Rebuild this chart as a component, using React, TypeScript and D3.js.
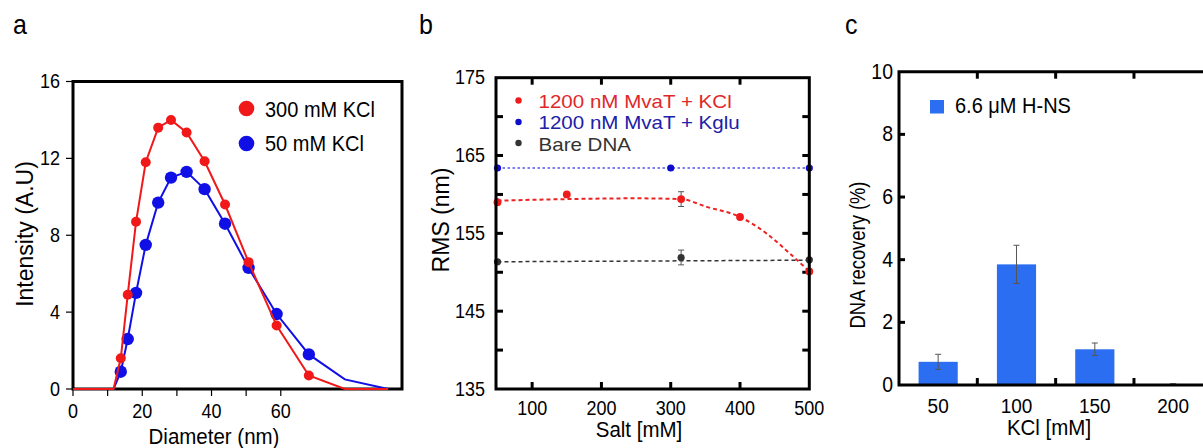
import React from "react";
import * as d3 from "d3";

// ---------- Panel a data ----------
const diameters = [0, 11.7, 13.8, 15.8, 18.2, 21.0, 24.6, 28.3, 32.8, 38.0, 43.9, 50.7, 58.8, 68.1, 78.5, 91.0];
const intensity300 = [0, 0, 1.6, 4.9, 8.7, 11.8, 13.6, 14.0, 13.35, 11.85, 9.6, 6.6, 3.3, 0.7, 0, 0];
const intensity50 = [0, 0, 0.9, 2.6, 5.0, 7.5, 9.7, 11.0, 11.3, 10.4, 8.6, 6.3, 3.9, 1.8, 0.5, 0];
const hasMarker = [false, false, true, true, true, true, true, true, true, true, true, true, true, true, false, false];
const aXTicks = [0, 10, 20, 30, 40, 50, 60];
const aXLabels = [0, 20, 40, 60];
const aYTicks = [0, 4, 8, 12, 16];

// ---------- Panel b data ----------
const saltKCl = [50, 150, 315, 400, 500];
const rmsKCl = [159.0, 160.0, 159.4, 157.1, 150.1];
const errKCl = [0, 0, 0.95, 0, 0];
const fitSaltKCl = [50, 150, 250, 315, 352, 400, 438, 472, 500];
const fitRmsKCl = [159.2, 159.4, 159.5, 159.4, 158.4, 157.1, 155.0, 152.4, 150.1];
const saltKglu = [50, 300, 500];
const rmsKglu = [163.4, 163.4, 163.4];
const saltBare = [50, 315, 500];
const rmsBare = [151.35, 151.9, 151.6];
const errBare = [0, 0.95, 0];
const fitSaltBare = [50, 500];
const fitRmsBare = [151.35, 151.55];
const bXTicks = [100, 200, 300, 400];
const bXLabels = [100, 200, 300, 400, 500];
const bYTicks = [140, 145, 150, 155, 160, 165, 170];
const bYLabels = [135, 145, 155, 165, 175];

// ---------- Panel c data ----------
const kclCats = ["50", "100", "150", "200"];
const recovery = [0.74, 3.85, 1.14, 0.03];
const recoveryErr = [0.24, 0.61, 0.2, 0.01];
const cYTicks = [2, 4, 6, 8];
const cYLabels = [0, 2, 4, 6, 8, 10];

const FONT = "'Liberation Sans', Arial, Helvetica, sans-serif";
const RED_A = "#f01818";
const BLUE_A = "#1010e6";
const RED_B = "#f01a1a";
const BLUE_B = "#0d0dcc";
const GRAY_B = "#333333";
const BAR = "#2b6ef2";
const SY = 1.1;

type TP = {
  x: number;
  y: number;
  size: number;
  anchor?: "start" | "middle" | "end";
  fill?: string;
  sx?: number;
  sy?: number;
  children: React.ReactNode;
};
function T({ x, y, size, anchor = "start", fill = "#000", sx = 1, sy = SY, children }: TP) {
  return (
    <text
      transform={`translate(${x},${y}) scale(${sx},${sy})`}
      fontSize={size}
      textAnchor={anchor}
      fill={fill}
      fontFamily={FONT}
    >
      {children}
    </text>
  );
}

function PanelA() {
  const x = d3.scaleLinear().domain([0, 95]).range([73, 402]);
  const y = d3.scaleLinear().domain([0, 16]).range([389, 81.5]);
  const line = (vals: number[]) =>
    d3.line<number>().x((_, i) => x(diameters[i])).y((v) => y(v))(vals) || "";
  return (
    <g>
      <T x={13} y={34} size={25}>a</T>
      {aXTicks.map((t) => (
        <line key={"xt" + t} x1={x(t)} x2={x(t)} y1={389} y2={396} stroke="#000" strokeWidth={1.2} />
      ))}
      {aYTicks.map((t) => (
        <line key={"yt" + t} x1={66} x2={73} y1={y(t)} y2={y(t)} stroke="#000" strokeWidth={1.2} />
      ))}
      {aXLabels.map((t) => (
        <T key={"xl" + t} x={x(t)} y={418} size={18} anchor="middle">{t}</T>
      ))}
      {aYTicks.map((t) => (
        <T key={"yl" + t} x={60} y={y(t) + 6.5} size={18} anchor="end">{t}</T>
      ))}
      <path d={`M73,${y(0)} V81.5 H402 V${y(0)} Z`} fill="none" stroke="#000" strokeWidth={3} />
      <path d={line(intensity50)} fill="none" stroke={BLUE_A} strokeWidth={2} />
      {intensity50.map((v, i) =>
        hasMarker[i] ? <circle key={"b" + i} cx={x(diameters[i])} cy={y(v)} r={6.2} fill={BLUE_A} /> : null
      )}
      <path d={line(intensity300)} fill="none" stroke={RED_A} strokeWidth={2} />
      {intensity300.map((v, i) =>
        hasMarker[i] ? <circle key={"r" + i} cx={x(diameters[i])} cy={y(v)} r={5} fill={RED_A} /> : null
      )}
      <circle cx={246.5} cy={108.5} r={7.8} fill={RED_A} />
      <T x={265} y={116.5} size={20}>300 mM KCl</T>
      <circle cx={246.5} cy={143.5} r={7.8} fill={BLUE_A} />
      <T x={265} y={150.5} size={20}>50 mM KCl</T>
      <T x={214} y={444} size={20.5} anchor="middle">Diameter (nm)</T>
      <text transform="translate(33,234) rotate(-90)" fontSize={23} textAnchor="middle" fontFamily={FONT}>Intensity (A.U)</text>
    </g>
  );
}

function PanelB() {
  const x = d3.scaleLinear().domain([50, 500]).range([497.5, 809.3]);
  const y = d3.scaleLinear().domain([135, 175]).range([389, 77.7]);
  const mk = (xs: number[], ys: number[], curve: d3.CurveFactory) =>
    d3.line<number>().x((v) => x(v)).y((_, i) => y(ys[i])).curve(curve)(xs) || "";
  const L = 496, R = 809.3, Tp = 77.7, B = 389;
  const errBar = (key: string, sx: number, v: number, e: number) => (
    <g key={key} stroke="#555" strokeWidth={1}>
      <line x1={x(sx)} x2={x(sx)} y1={y(v - e)} y2={y(v + e)} />
      <line x1={x(sx) - 3} x2={x(sx) + 3} y1={y(v - e)} y2={y(v - e)} />
      <line x1={x(sx) - 3} x2={x(sx) + 3} y1={y(v + e)} y2={y(v + e)} />
    </g>
  );
  return (
    <g>
      <T x={419} y={34} size={25}>b</T>
      {bXTicks.map((t) => (
        <g key={"xt" + t}>
          <line x1={x(t)} x2={x(t)} y1={B} y2={B - 7} stroke="#000" strokeWidth={3} />
          <line x1={x(t)} x2={x(t)} y1={Tp} y2={Tp + 7} stroke="#000" strokeWidth={3} />
        </g>
      ))}
      {bYTicks.map((t) => (
        <g key={"yt" + t}>
          <line x1={L} x2={L + 7} y1={y(t)} y2={y(t)} stroke="#000" strokeWidth={3} />
          <line x1={R} x2={R - 7} y1={y(t)} y2={y(t)} stroke="#000" strokeWidth={3} />
        </g>
      ))}
      {bXLabels.map((t) => (
        <T key={"xl" + t} x={x(t)} y={415} size={18} anchor="middle">{t}</T>
      ))}
      {bYLabels.map((t) => (
        <T key={"yl" + t} x={485} y={y(t) + 6.5} size={18} anchor="end">{t}</T>
      ))}
      <path d={mk(saltKglu, rmsKglu, d3.curveLinear)} fill="none" stroke="#5555ee" strokeWidth={1.5} strokeDasharray="2.5,2.5" />
      <path d={mk(fitSaltBare, fitRmsBare, d3.curveLinear)} fill="none" stroke="#333" strokeWidth={1.5} strokeDasharray="4,3" />
      <path d={mk(fitSaltKCl, fitRmsKCl, d3.curveMonotoneX)} fill="none" stroke="#ee2222" strokeWidth={2} strokeDasharray="4,3" />
      {saltKCl.map((s, i) => (errKCl[i] > 0 ? errBar("ek" + i, s, rmsKCl[i], errKCl[i]) : null))}
      {saltBare.map((s, i) => (errBare[i] > 0 ? errBar("eb" + i, s, rmsBare[i], errBare[i]) : null))}
      {saltKglu.map((s, i) => <circle key={"pg" + i} cx={x(s)} cy={y(rmsKglu[i])} r={3.6} fill={BLUE_B} />)}
      {saltBare.map((s, i) => <circle key={"pb" + i} cx={x(s)} cy={y(rmsBare[i])} r={3.6} fill={GRAY_B} />)}
      {saltKCl.map((s, i) => <circle key={"pk" + i} cx={x(s)} cy={y(rmsKCl[i])} r={3.9} fill={RED_B} />)}
      <rect x={L} y={Tp} width={R - L} height={B - Tp} fill="none" stroke="#000" strokeWidth={3} />
      <circle cx={518.5} cy={100.5} r={3.2} fill={RED_B} />
      <T x={538.5} y={107.5} size={18.2} sx={1.13} sy={1} fill="#e0282b">1200 nM MvaT + KCl</T>
      <circle cx={518.5} cy={122} r={3.2} fill={BLUE_B} />
      <T x={538.5} y={129} size={18.2} sx={1.13} sy={1} fill="#2020a8">1200 nM MvaT + Kglu</T>
      <circle cx={518.5} cy={143} r={3.2} fill={GRAY_B} />
      <T x={538.5} y={150.5} size={18.2} sx={1.13} sy={1} fill="#333">Bare DNA</T>
      <T x={639} y={437} size={20.5} anchor="middle">Salt [mM]</T>
      <text transform="translate(449,220) rotate(-90)" fontSize={23} textAnchor="middle" fontFamily={FONT}>RMS (nm)</text>
    </g>
  );
}

function PanelC() {
  const x = d3.scaleBand<string>().domain(kclCats).range([899, 1212.3]).paddingInner(0.5).paddingOuter(0.25);
  const y = d3.scaleLinear().domain([0, 10]).range([385, 71.7]);
  const step = x.step();
  const L = 899, Tp = 71.7, B = 385, R = 1212.3;
  const bounds = kclCats.slice(1).map((c) => (x(c) as number) - step * 0.25);
  return (
    <g>
      <T x={845} y={34} size={25}>c</T>
      {kclCats.map((c, i) => (
        <rect key={"bar" + c} x={x(c)} y={y(recovery[i])} width={x.bandwidth()} height={y(0) - y(recovery[i])} fill={BAR} />
      ))}
      {kclCats.map((c, i) => {
        const cx = (x(c) as number) + x.bandwidth() / 2;
        const lo = y(recovery[i] - recoveryErr[i]);
        const hi = y(recovery[i] + recoveryErr[i]);
        return (
          <g key={"err" + c} stroke="#555" strokeWidth={1}>
            <line x1={cx} x2={cx} y1={lo} y2={hi} />
            <line x1={cx - 3} x2={cx + 3} y1={lo} y2={lo} />
            <line x1={cx - 3} x2={cx + 3} y1={hi} y2={hi} />
          </g>
        );
      })}
      {bounds.map((b, i) => (
        <g key={"xt" + i}>
          <line x1={b} x2={b} y1={B} y2={B - 7} stroke="#000" strokeWidth={3} />
          <line x1={b} x2={b} y1={Tp} y2={Tp + 7} stroke="#000" strokeWidth={3} />
        </g>
      ))}
      {cYTicks.map((t) => (
        <line key={"yt" + t} x1={L} x2={L + 6} y1={y(t)} y2={y(t)} stroke="#000" strokeWidth={3} />
      ))}
      {kclCats.map((c) => (
        <T key={"xl" + c} x={(x(c) as number) + x.bandwidth() / 2} y={413} size={19} anchor="middle">{c}</T>
      ))}
      {cYLabels.map((t) => (
        <T key={"yl" + t} x={893} y={y(t) + 7} size={19.5} anchor="end">{t}</T>
      ))}
      <path d={`M${R},${Tp} H${L} V${B} H${R}`} fill="none" stroke="#000" strokeWidth={3} />
      <rect x={930} y={100} width={14} height={13.5} fill={BAR} />
      <T x={955} y={113} size={20}>6.6 μM H-NS</T>
      <T x={1049} y={435} size={20.5} anchor="middle">KCl [mM]</T>
      <text
        transform="translate(865,255) rotate(-90)"
        fontSize={21.5}
        textAnchor="middle"
        fontFamily={FONT}
        textLength={147}
        lengthAdjust="spacingAndGlyphs"
      >
        DNA recovery (%)
      </text>
    </g>
  );
}

export default function App() {
  return (
    <svg
      width={1203}
      height={448}
      viewBox="0 0 1203 448"
      style={{ position: "absolute", left: 0, top: 0, background: "#fff" }}
    >
      <rect x={0} y={0} width={1203} height={448} fill="#fff" />
      <PanelA />
      <PanelB />
      <PanelC />
    </svg>
  );
}
